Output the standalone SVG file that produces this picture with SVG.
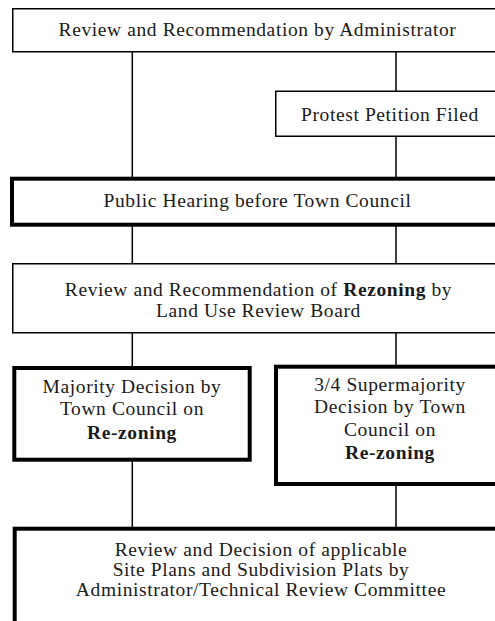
<svg xmlns="http://www.w3.org/2000/svg" width="495" height="621" viewBox="0 0 495 621">
  <style>
    .box { fill: #ffffff; stroke: #000000; stroke-width: 1.5; }
    .thick { fill: #ffffff; stroke: #000000; stroke-width: 4; }
    .wire { stroke: #000000; stroke-width: 1.5; fill: none; }
    .lbl { font-size: 19.5px; letter-spacing: 0.6px; fill: #1a1a1a; text-anchor: middle; }
    .b { font-weight: bold; }
  </style>
  <rect x="0" y="0" width="495" height="621" fill="#ffffff"/>

  <!-- connectors -->
  <g id="connectors">
    <line class="wire" x1="132.3" y1="52" x2="132.3" y2="177"/>
    <line class="wire" x1="396" y1="52" x2="396" y2="91"/>
    <line class="wire" x1="396" y1="136" x2="396" y2="177"/>
    <line class="wire" x1="132.3" y1="226" x2="132.3" y2="264"/>
    <line class="wire" x1="396" y1="226" x2="396" y2="264"/>
    <line class="wire" x1="132.3" y1="332" x2="132.3" y2="367"/>
    <line class="wire" x1="396" y1="332" x2="396" y2="366"/>
    <line class="wire" x1="132.3" y1="460" x2="132.3" y2="528"/>
    <line class="wire" x1="396" y1="484" x2="396" y2="528"/>
  </g>

  <g font-family="'Liberation Serif', 'Times New Roman', serif">
    <g id="admin-review">
      <rect class="box" x="12.75" y="8.75" width="500" height="43"/>
      <text class="lbl" x="257.5" y="36">Review and Recommendation by Administrator</text>
    </g>

    <g id="protest-petition">
      <rect class="box" x="275.75" y="91.25" width="240" height="45"/>
      <text class="lbl" x="390" y="121">Protest Petition Filed</text>
    </g>

    <g id="public-hearing">
      <rect class="thick" x="12" y="178.7" width="500" height="46"/>
      <text class="lbl" x="257.5" y="207">Public Hearing before Town Council</text>
    </g>

    <g id="board-review">
      <rect class="box" x="12.75" y="263.75" width="500" height="69"/>
      <text class="lbl" x="258.5" y="296">Review and Recommendation of <tspan class="b">Rezoning</tspan> by</text>
      <text class="lbl" x="258.5" y="317">Land Use Review Board</text>
    </g>

    <g id="majority-decision">
      <rect class="thick" x="14.3" y="368" width="235.4" height="91.7"/>
      <text class="lbl" x="132" y="392.5">Majority Decision by</text>
      <text class="lbl" x="132" y="414.5">Town Council on</text>
      <text class="lbl b" x="132" y="438.5">Re-zoning</text>
    </g>

    <g id="supermajority-decision">
      <rect class="thick" x="276" y="366.7" width="240" height="117.3"/>
      <text class="lbl" x="390" y="391">3/4 Supermajority</text>
      <text class="lbl" x="390" y="413">Decision by Town</text>
      <text class="lbl" x="390" y="435.5">Council on</text>
      <text class="lbl b" x="390" y="459">Re-zoning</text>
    </g>

    <g id="site-plan-review">
      <rect class="thick" x="14.7" y="528.7" width="500" height="120"/>
      <text class="lbl" x="261" y="556">Review and Decision of applicable</text>
      <text class="lbl" x="261" y="576">Site Plans and Subdivision Plats by</text>
      <text class="lbl" x="261" y="595.5">Administrator/Technical Review Committee</text>
    </g>
  </g>
</svg>
